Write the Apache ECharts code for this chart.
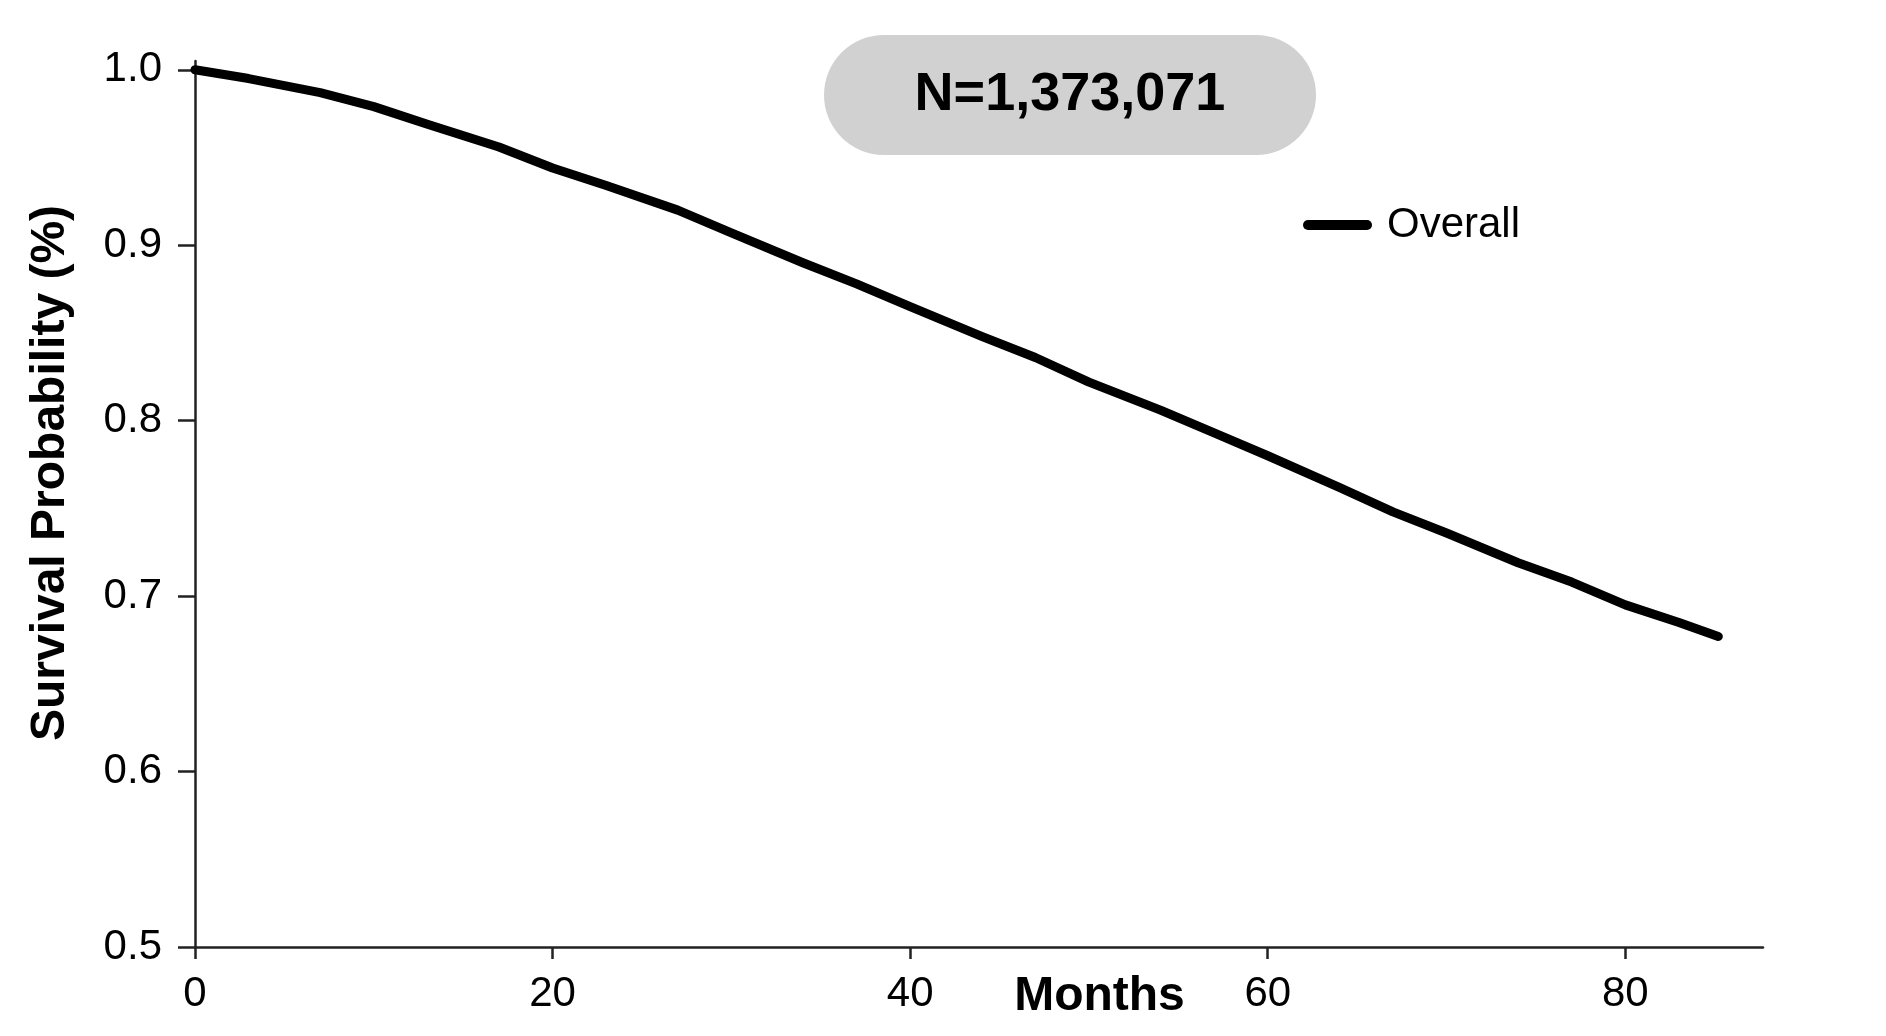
<!DOCTYPE html>
<html>
<head>
<meta charset="utf-8">
<title>Overall survival</title>
<script src="https://cdn.jsdelivr.net/npm/echarts/dist/echarts.min.js"></script>
<style>
  html, body { margin: 0; padding: 0; background: #fff; }
  #chart { width: 1886px; height: 1036px; }
</style>
</head>
<body>
<div id="chart"></div>
<script>
// Kaplan-Meier estimate for the whole cohort
const months = [0, 3, 7, 10, 13, 17, 20, 23, 27, 30, 34, 37, 40, 44, 47, 50, 54, 57, 60, 64, 67, 70, 74, 77, 80, 83, 85.2];
const survival = [1.000, 0.995, 0.987, 0.979, 0.969, 0.956, 0.944, 0.934, 0.920, 0.907, 0.890, 0.878, 0.865, 0.848, 0.836, 0.822, 0.806, 0.793, 0.780, 0.762, 0.748, 0.736, 0.719, 0.708, 0.695, 0.685, 0.677];
const seriesName = 'Overall';

// Axis ticks
const xTicks = [0, 20, 40, 60, 80];
const yTicks = [0.5, 0.6, 0.7, 0.8, 0.9, 1.0];

const cohortLabel = 'N=1,373,071';

const FONT = '"Liberation Sans", Arial, Helvetica, sans-serif';
const AXIS_COLOR = '#222';

const chart = echarts.init(document.getElementById('chart'), null, { renderer: 'canvas' });

chart.setOption({
  backgroundColor: '#fff',
  animation: false,
  textStyle: { fontFamily: FONT, color: '#000' },
  grid: { left: 195, right: 123, top: 61, bottom: 89, containLabel: false, outerBoundsMode: 'none' },
  legend: {
    data: [seriesName],
    left: 1298,
    top: 199,
    itemWidth: 69,
    itemHeight: 10,
    icon: 'path://M5 0H64A5 5 0 0 1 64 10H5A5 5 0 0 1 5 0Z',
    textStyle: { fontFamily: FONT, fontSize: 42, color: '#000', padding: [0, 0, 0, 10] }
  },
  xAxis: {
    type: 'value',
    min: 0,
    max: 87.7,
    name: 'Months',
    nameLocation: 'middle',
    nameGap: 26,
    nameMoveOverlap: false,
    nameTextStyle: {
      fontFamily: FONT, fontSize: 48, fontWeight: 'bold', color: '#000',
      verticalAlign: 'top', padding: [0, 0, 0, 241]
    },
    splitLine: { show: false },
    axisLine: { show: true, onZero: false, lineStyle: { color: AXIS_COLOR, width: 2.5 } },
    axisTick: { show: true, customValues: xTicks, length: 12, lineStyle: { color: AXIS_COLOR, width: 2.5 } },
    axisLabel: { customValues: xTicks, margin: 26, fontSize: 42, color: '#000', fontFamily: FONT }
  },
  yAxis: {
    type: 'value',
    min: 0.5,
    max: 1.005,
    name: 'Survival Probability (%)',
    nameLocation: 'middle',
    nameRotate: 90,
    nameGap: 120,
    nameMoveOverlap: false,
    nameTextStyle: {
      fontFamily: FONT, fontSize: 48, fontWeight: 'bold', color: '#000',
      padding: [0, 0, 0, 62]
    },
    splitLine: { show: false },
    axisLine: { show: true, lineStyle: { color: AXIS_COLOR, width: 2.5 } },
    axisTick: { show: true, customValues: yTicks, length: 17, lineStyle: { color: AXIS_COLOR, width: 2.5 } },
    axisLabel: {
      customValues: yTicks, margin: 33, fontSize: 42, color: '#000', fontFamily: FONT,
      formatter: v => v.toFixed(1)
    }
  },
  graphic: [
    {
      type: 'group',
      left: 824,
      top: 35,
      children: [
        { type: 'rect', shape: { x: 0, y: 0, width: 492, height: 120, r: 60 }, style: { fill: '#d1d1d1' } },
        {
          type: 'text', x: 246, y: 60,
          style: {
            text: cohortLabel, fontFamily: FONT, fontSize: 54, fontWeight: 'bold',
            fill: '#000', align: 'center', verticalAlign: 'middle'
          }
        }
      ]
    }
  ],
  series: [
    {
      name: seriesName,
      type: 'line',
      data: months.map((m, i) => [m, survival[i]]),
      showSymbol: false,
      symbol: 'none',
      smooth: false,
      color: '#000',
      lineStyle: { color: '#000', width: 9, cap: 'round', join: 'round' },
      z: 3
    }
  ]
});
</script>
</body>
</html>
